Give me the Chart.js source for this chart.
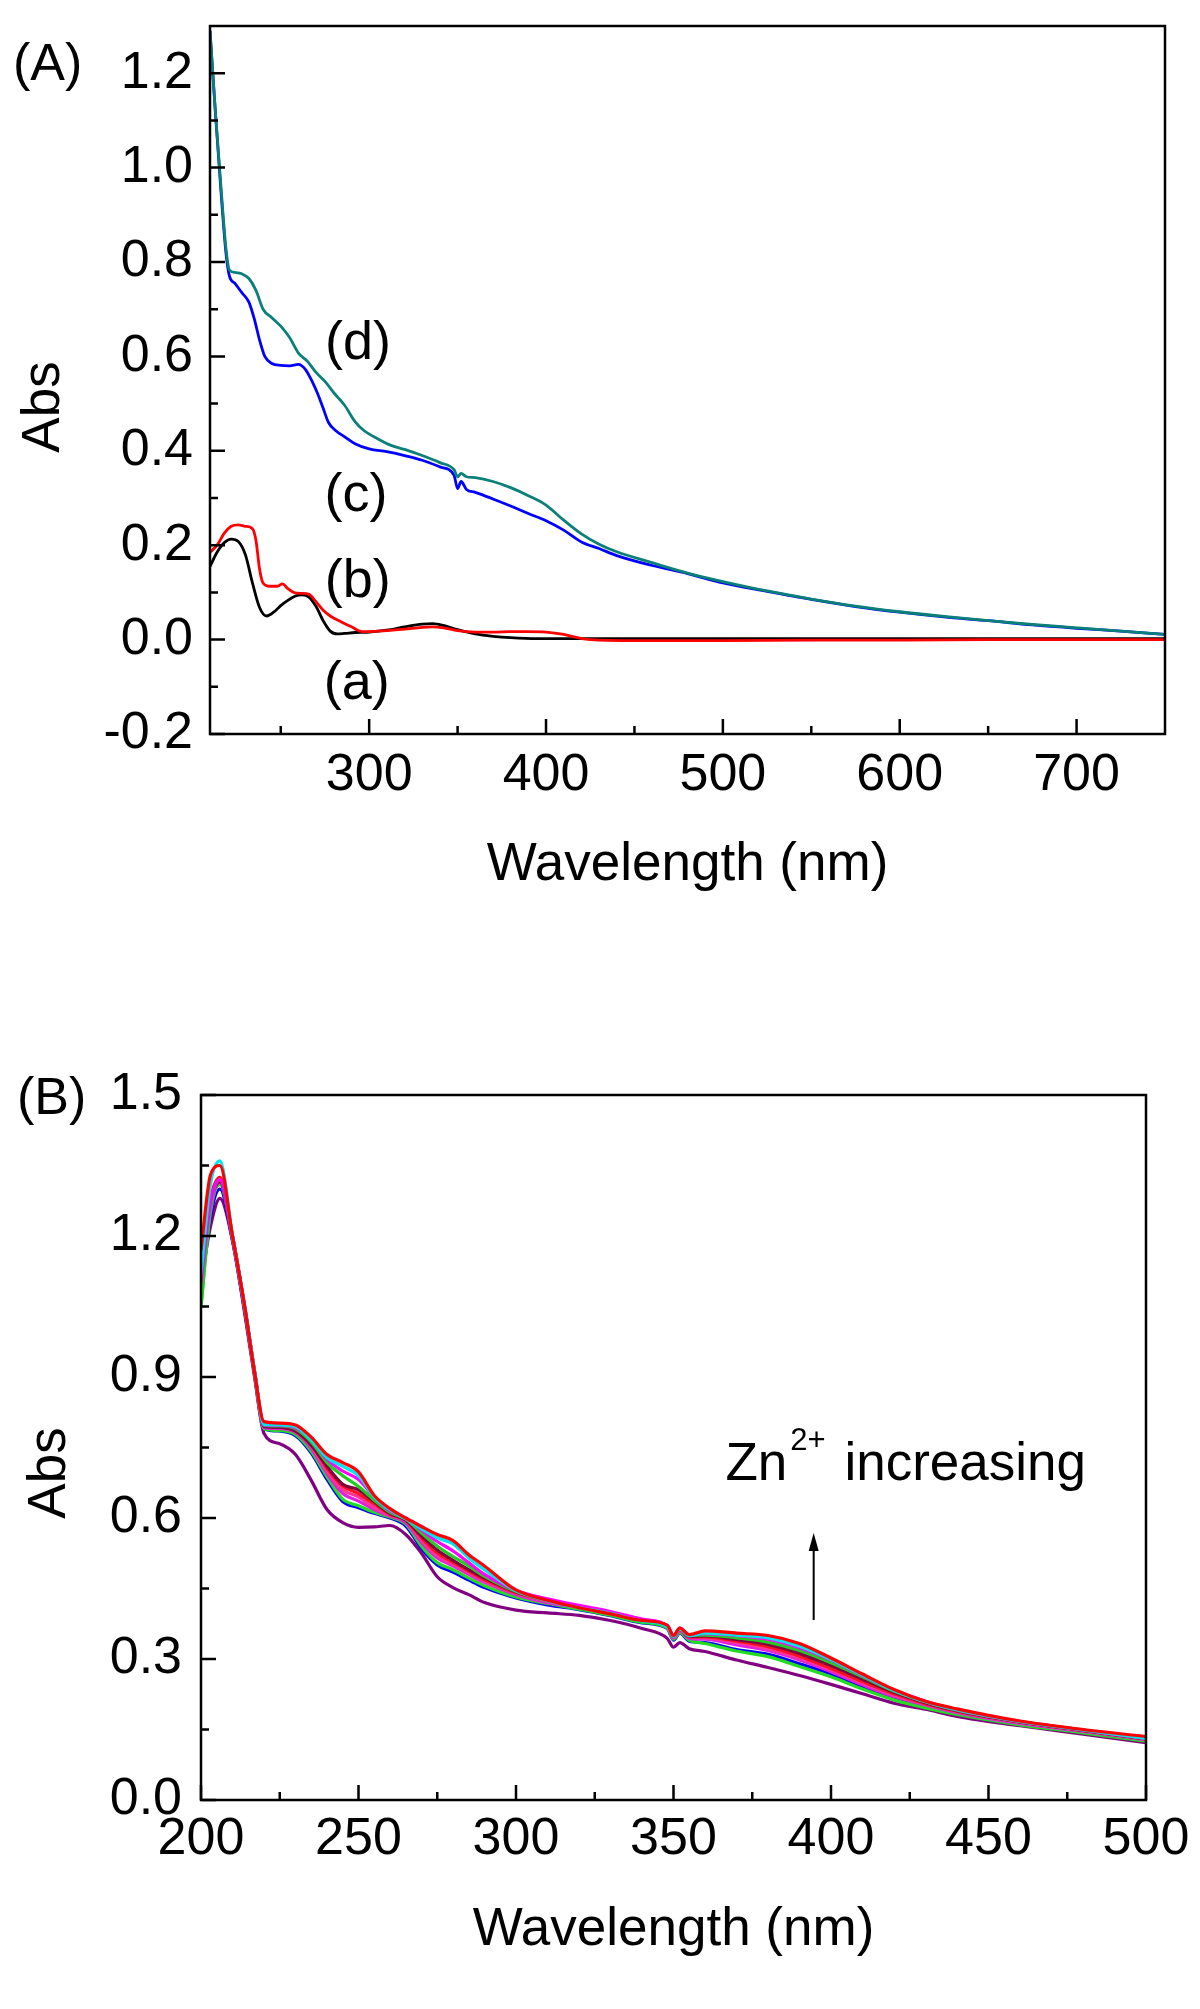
<!DOCTYPE html>
<html>
<head>
<meta charset="utf-8">
<script src="https://cdn.jsdelivr.net/npm/chart.js@4.4.1/dist/chart.umd.min.js"></script>
<style>
  html, body { margin: 0; padding: 0; background: #fff; }
  #page { position: relative; width: 1200px; height: 2009px; background: #fff; }
  .panel { position: absolute; left: 0; width: 1200px; }
</style>
</head>
<body>
<div id="page">
  <div class="panel" style="top:0;height:960px"><canvas id="chartA" width="1200" height="960"></canvas></div>
  <div class="panel" style="top:960px;height:1049px"><canvas id="chartB" width="1200" height="1049"></canvas></div>
</div>
<script>
// ---------- Panel (A): spectra a-d ----------
const wlA_a = [210, 214, 218, 222, 226, 230, 234, 238, 242, 246, 250, 254, 258, 262, 266, 270, 274, 278, 282, 286, 292, 300, 310, 320, 330, 336, 342, 350, 360, 370, 380, 395, 410, 450, 500, 550, 600, 650, 700, 750];
const absA_a = [0.155, 0.185, 0.205, 0.213, 0.208, 0.18, 0.12, 0.068, 0.05, 0.058, 0.072, 0.083, 0.092, 0.095, 0.09, 0.07, 0.04, 0.018, 0.012, 0.013, 0.015, 0.016, 0.02, 0.027, 0.033, 0.034, 0.03, 0.021, 0.012, 0.007, 0.004, 0.002, 0.002, 0.002, 0.002, 0.002, 0.002, 0.002, 0.002, 0.002];

const wlA_b = [210, 214, 218, 222, 226, 230, 234, 236, 238, 240, 244, 248, 251, 254, 258, 262, 266, 270, 274, 278, 284, 290, 296, 300, 310, 320, 330, 336, 342, 350, 360, 370, 380, 390, 400, 410, 418, 425, 450, 500, 550, 600, 650, 700, 750];
const absA_b = [0.185, 0.2, 0.225, 0.24, 0.243, 0.24, 0.235, 0.21, 0.15, 0.12, 0.113, 0.113, 0.118, 0.108, 0.099, 0.098, 0.096, 0.08, 0.062, 0.05, 0.038, 0.027, 0.017, 0.017, 0.019, 0.022, 0.026, 0.027, 0.025, 0.019, 0.016, 0.016, 0.017, 0.017, 0.016, 0.011, 0.004, 0.0, -0.002, -0.002, -0.001, -0.001, 0.0, 0.0, 0.0];

const wlA_c = [210, 213, 216, 219, 221, 224, 228, 232, 235, 238, 241, 245, 250, 255, 260, 264, 268, 271, 274, 277, 281, 286, 292, 300, 310, 320, 330, 340, 348, 350, 352, 355, 360, 370, 380, 390, 400, 410, 420, 430, 440, 460, 480, 500, 525, 550, 575, 600, 625, 650, 675, 700, 725, 750];
const absA_c = [1.29, 1.12, 0.96, 0.82, 0.77, 0.755, 0.735, 0.715, 0.68, 0.635, 0.6, 0.585, 0.581, 0.58, 0.583, 0.572, 0.545, 0.52, 0.49, 0.46, 0.443, 0.43, 0.415, 0.404, 0.398, 0.39, 0.38, 0.366, 0.348, 0.32, 0.335, 0.318, 0.312, 0.298, 0.283, 0.267, 0.252, 0.232, 0.207, 0.193, 0.178, 0.157, 0.14, 0.12, 0.102, 0.085, 0.07, 0.058, 0.048, 0.04, 0.031, 0.024, 0.018, 0.011];

const wlA_d = [210, 213, 216, 219, 221, 224, 228, 232, 236, 240, 245, 250, 255, 260, 265, 270, 275, 280, 286, 292, 297, 305, 312, 320, 330, 340, 348, 350, 352, 355, 360, 370, 380, 390, 400, 410, 420, 430, 440, 460, 480, 500, 525, 550, 575, 600, 625, 650, 675, 700, 725, 750];
const absA_d = [1.29, 1.12, 0.97, 0.83, 0.783, 0.778, 0.775, 0.765, 0.74, 0.70, 0.682, 0.664, 0.64, 0.607, 0.59, 0.566, 0.547, 0.523, 0.497, 0.462, 0.443, 0.425, 0.412, 0.403, 0.39, 0.375, 0.36, 0.345, 0.352, 0.345, 0.343, 0.335, 0.322, 0.305, 0.285, 0.253, 0.224, 0.202, 0.186, 0.163, 0.141, 0.123, 0.103, 0.086, 0.071, 0.059, 0.049, 0.04, 0.032, 0.025, 0.018, 0.011];

const colorsA = ['#000000', '#ff0000', '#0000ff', '#0a8078'];
const labelsA = ['(a)', '(b)', '(c)', '(d)'];
const labelXA = [293, 293.5, 292.6, 293.7];
const labelYA = [-0.126, 0.09, 0.2725, 0.5945];
const xTicksA = [300, 400, 500, 600, 700];
const xMinorA = [250, 350, 450, 550, 650];
const yTicksA = [-0.2, 0, 0.2, 0.4, 0.6, 0.8, 1.0, 1.2];
const yMinorA = [-0.1, 0.1, 0.3, 0.5, 0.7, 0.9, 1.1];

// ---------- Panel (B): Zn2+ titration ----------
const wlB = [200, 203, 206, 210, 214, 217, 220, 225, 230, 235, 240, 245, 250, 255, 260, 265, 270, 275, 280, 285, 290, 300, 310, 320, 330, 340, 348, 350, 352, 355, 360, 370, 380, 390, 400, 410, 420, 430, 440, 460, 480, 500];
const absB_red = [1.17, 1.33, 1.35, 1.20, 1.045, 0.91, 0.805, 0.802, 0.798, 0.772, 0.735, 0.718, 0.698, 0.648, 0.62, 0.60, 0.582, 0.565, 0.552, 0.522, 0.498, 0.447, 0.425, 0.409, 0.396, 0.382, 0.372, 0.35, 0.366, 0.352, 0.36, 0.355, 0.35, 0.333, 0.302, 0.268, 0.235, 0.21, 0.194, 0.168, 0.15, 0.135];
const absB_cyan = [1.12, 1.31, 1.36, 1.20, 1.045, 0.912, 0.799, 0.798, 0.794, 0.766, 0.728, 0.71, 0.69, 0.645, 0.617, 0.598, 0.577, 0.558, 0.545, 0.515, 0.49, 0.445, 0.424, 0.409, 0.397, 0.381, 0.369, 0.348, 0.364, 0.349, 0.355, 0.351, 0.345, 0.327, 0.299, 0.266, 0.233, 0.209, 0.192, 0.167, 0.149, 0.131];
const absB_magenta = [1.10, 1.27, 1.32, 1.20, 1.044, 0.912, 0.798, 0.797, 0.792, 0.768, 0.725, 0.70, 0.682, 0.645, 0.615, 0.60, 0.574, 0.55, 0.53, 0.505, 0.48, 0.446, 0.428, 0.414, 0.401, 0.385, 0.371, 0.35, 0.366, 0.351, 0.354, 0.35, 0.342, 0.324, 0.298, 0.265, 0.234, 0.21, 0.192, 0.167, 0.149, 0.131];
const absB_green = [1.05, 1.26, 1.32, 1.20, 1.043, 0.912, 0.797, 0.796, 0.79, 0.762, 0.718, 0.69, 0.667, 0.638, 0.612, 0.598, 0.568, 0.54, 0.518, 0.498, 0.476, 0.444, 0.426, 0.412, 0.398, 0.383, 0.37, 0.35, 0.365, 0.35, 0.351, 0.345, 0.336, 0.318, 0.292, 0.262, 0.232, 0.209, 0.191, 0.167, 0.149, 0.131];
const absB_wine = [1.12, 1.27, 1.315, 1.198, 1.042, 0.91, 0.795, 0.793, 0.785, 0.755, 0.71, 0.672, 0.66, 0.635, 0.61, 0.596, 0.562, 0.532, 0.51, 0.49, 0.472, 0.443, 0.425, 0.411, 0.398, 0.383, 0.37, 0.349, 0.364, 0.348, 0.349, 0.341, 0.331, 0.312, 0.286, 0.257, 0.229, 0.207, 0.19, 0.166, 0.148, 0.13];
const absB_red2 = [1.14, 1.28, 1.325, 1.20, 1.043, 0.912, 0.797, 0.794, 0.786, 0.757, 0.706, 0.668, 0.652, 0.63, 0.608, 0.595, 0.558, 0.526, 0.506, 0.487, 0.469, 0.441, 0.424, 0.411, 0.398, 0.383, 0.37, 0.348, 0.363, 0.347, 0.347, 0.338, 0.326, 0.306, 0.28, 0.252, 0.226, 0.205, 0.189, 0.166, 0.148, 0.13];
const absB_pink = [1.13, 1.27, 1.32, 1.198, 1.042, 0.91, 0.795, 0.792, 0.784, 0.752, 0.70, 0.66, 0.645, 0.622, 0.606, 0.594, 0.553, 0.52, 0.502, 0.484, 0.466, 0.44, 0.422, 0.41, 0.398, 0.383, 0.369, 0.347, 0.362, 0.346, 0.345, 0.335, 0.322, 0.302, 0.277, 0.249, 0.223, 0.204, 0.188, 0.165, 0.147, 0.129];
const absB_magenta2 = [1.12, 1.26, 1.315, 1.195, 1.04, 0.908, 0.792, 0.79, 0.782, 0.748, 0.695, 0.652, 0.636, 0.618, 0.604, 0.59, 0.548, 0.515, 0.498, 0.48, 0.463, 0.437, 0.42, 0.41, 0.399, 0.384, 0.368, 0.345, 0.36, 0.344, 0.342, 0.33, 0.318, 0.298, 0.273, 0.245, 0.22, 0.202, 0.186, 0.163, 0.146, 0.128];
const absB_green2 = [1.05, 1.25, 1.31, 1.195, 1.04, 0.905, 0.79, 0.786, 0.778, 0.742, 0.688, 0.64, 0.626, 0.612, 0.602, 0.587, 0.54, 0.505, 0.49, 0.472, 0.456, 0.432, 0.418, 0.406, 0.393, 0.378, 0.366, 0.342, 0.356, 0.34, 0.333, 0.317, 0.305, 0.284, 0.262, 0.236, 0.213, 0.196, 0.182, 0.16, 0.143, 0.125];
const absB_blue = [1.08, 1.24, 1.30, 1.19, 1.035, 0.905, 0.79, 0.785, 0.775, 0.738, 0.682, 0.635, 0.622, 0.61, 0.60, 0.583, 0.535, 0.50, 0.485, 0.468, 0.452, 0.43, 0.415, 0.405, 0.392, 0.377, 0.365, 0.34, 0.355, 0.338, 0.335, 0.32, 0.31, 0.29, 0.268, 0.241, 0.217, 0.198, 0.183, 0.162, 0.145, 0.126];
const absB_purple = [1.10, 1.22, 1.28, 1.19, 1.03, 0.90, 0.78, 0.758, 0.735, 0.68, 0.618, 0.59, 0.58, 0.581, 0.584, 0.565, 0.525, 0.475, 0.452, 0.437, 0.42, 0.404, 0.398, 0.393, 0.382, 0.365, 0.344, 0.325, 0.335, 0.322, 0.316, 0.298, 0.282, 0.265, 0.246, 0.226, 0.206, 0.193, 0.178, 0.158, 0.14, 0.122];

const seriesB = [absB_red, absB_cyan, absB_magenta, absB_green, absB_wine, absB_red2, absB_pink, absB_magenta2, absB_green2, absB_blue, absB_purple];
const colorsB = ['#ff0000', '#00e5ee', '#ff00ff', '#22cc22', '#800040', '#ff1020', '#ff3399', '#e020e0', '#22dd22', '#0000ff', '#800080'];
const xTicksB = [200, 250, 300, 350, 400, 450, 500];
const xMinorB = [225, 275, 325, 375, 425, 475];
const yTicksB = [0, 0.3, 0.6, 0.9, 1.2, 1.5];
const yMinorB = [0.15, 0.45, 0.75, 1.05, 1.35];
const noteB = { x: 366.5, y: 0.681, arrowX: 394.5, arrowFrom: 0.383, arrowTo: 0.568 };

const FONT = '"Liberation Sans", Arial, sans-serif';

function toPoints(xs, ys) {
    return xs.map((x, i) => ({ x: x, y: ys[i] }));
}

function decor(cfg) {
    return {
        id: 'decor' + cfg.name,
        afterDraw(chart) {
            const ctx = chart.ctx;
            const a = chart.chartArea;
            const xs = chart.scales.x, ys = chart.scales.y;
            ctx.save();
            ctx.strokeStyle = '#000';
            ctx.lineWidth = 2.5;
            ctx.strokeRect(a.left, a.top, a.right - a.left, a.bottom - a.top);

            // inward tick marks on bottom and left axes
            ctx.beginPath();
            const tickX = (vals, len) => vals.forEach(v => {
                const p = xs.getPixelForValue(v);
                ctx.moveTo(p, a.bottom); ctx.lineTo(p, a.bottom - len);
            });
            const tickY = (vals, len) => vals.forEach(v => {
                const p = ys.getPixelForValue(v);
                ctx.moveTo(a.left, p); ctx.lineTo(a.left + len, p);
            });
            tickX(cfg.xTicks, 15); tickX(cfg.xMinor, 8);
            tickY(cfg.yTicks, 15); tickY(cfg.yMinor, 8);
            ctx.stroke();

            ctx.fillStyle = '#000';
            ctx.font = '52px ' + FONT;
            ctx.textBaseline = 'alphabetic';
            ctx.textAlign = 'left';
            ctx.fillText(cfg.panel, cfg.panelX, cfg.panelY);

            ctx.font = '53px ' + FONT;
            ctx.textAlign = 'center';
            ctx.fillText('Wavelength (nm)', (a.left + a.right) / 2, cfg.xTitleY);

            ctx.save();
            ctx.translate(cfg.yTitleX, cfg.yTitleY);
            ctx.rotate(-Math.PI / 2);
            ctx.textBaseline = 'middle';
            ctx.fillText('Abs', 0, 0);
            ctx.restore();

            if (cfg.extra) cfg.extra(chart, ctx, xs, ys);
            ctx.restore();
        }
    };
}

function makeChart(id, datasets, s) {
    return new Chart(document.getElementById(id), {
        type: 'line',
        data: { datasets: datasets },
        options: {
            responsive: false,
            animation: false,
            events: [],
            layout: { padding: s.padding },
            elements: {
                point: { radius: 0 },
                line: { cubicInterpolationMode: 'monotone' }
            },
            plugins: { legend: { display: false }, tooltip: { enabled: false } },
            scales: {
                x: {
                    type: 'linear', min: s.xMin, max: s.xMax,
                    grid: { display: false, drawTicks: false },
                    border: { display: false },
                    afterBuildTicks: sc => { sc.ticks = s.xTicks.map(v => ({ value: v })); },
                    afterFit: sc => { sc.height = 120; sc.paddingLeft = 0; sc.paddingRight = 0; },
                    ticks: {
                        font: { family: FONT, size: 52, lineHeight: 1.2 }, color: '#000',
                        padding: s.xPad, maxRotation: 0, autoSkip: false,
                        callback: v => String(v)
                    }
                },
                y: {
                    type: 'linear', min: s.yMin, max: s.yMax,
                    grid: { display: false, drawTicks: false },
                    border: { display: false },
                    afterBuildTicks: sc => { sc.ticks = s.yTicks.map(v => ({ value: v })); },
                    afterFit: sc => { sc.width = s.yWidth; sc.paddingTop = 0; sc.paddingBottom = 0; },
                    ticks: {
                        font: { family: FONT, size: 52, lineHeight: 1.0 }, color: '#000',
                        padding: s.yPad, autoSkip: false,
                        callback: v => v.toFixed(1)
                    }
                }
            }
        },
        plugins: [decor(s)]
    });
}

// Panel A
const rawA = [[wlA_a, absA_a], [wlA_b, absA_b], [wlA_c, absA_c], [wlA_d, absA_d]];
const datasetsA = rawA.map((r, i) => ({
    data: toPoints(r[0], r[1]),
    borderColor: colorsA[i],
    borderWidth: 2.8
})).reverse();

makeChart('chartA', datasetsA, {
    name: 'A', panel: '(A)', panelX: 13, panelY: 80,
    xMin: 210, xMax: 750, yMin: -0.2, yMax: 1.3,
    xTicks: xTicksA, xMinor: xMinorA, yTicks: yTicksA, yMinor: yMinorA,
    padding: { left: 0, top: 26, right: 35, bottom: 960 - 734 - 120 },
    yWidth: 210, xPad: 10, yPad: 17,
    xTitleY: 880, yTitleX: 44, yTitleY: 407,
    extra(chart, ctx, xs, ys) {
        ctx.font = '54px ' + FONT;
        ctx.textAlign = 'center';
        ctx.textBaseline = 'alphabetic';
        labelsA.forEach((t, i) => {
            ctx.fillText(t, xs.getPixelForValue(labelXA[i]), ys.getPixelForValue(labelYA[i]));
        });
    }
});

// Panel B
const datasetsB = seriesB.map((arr, i) => ({
    data: toPoints(wlB, arr),
    borderColor: colorsB[i],
    borderWidth: 3.2
}));

makeChart('chartB', datasetsB, {
    name: 'B', panel: '(B)', panelX: 17, panelY: 154,
    xMin: 200, xMax: 500, yMin: 0, yMax: 1.5,
    xTicks: xTicksB, xMinor: xMinorB, yTicks: yTicksB, yMinor: yMinorB,
    padding: { left: 0, top: 135, right: 54, bottom: 1049 - 840 - 120 },
    yWidth: 201, xPad: 8, yPad: 19,
    xTitleY: 985, yTitleX: 50, yTitleY: 513,
    extra(chart, ctx, xs, ys) {
        let x = xs.getPixelForValue(noteB.x);
        const base = ys.getPixelForValue(noteB.y);
        ctx.textAlign = 'left';
        ctx.textBaseline = 'alphabetic';
        ctx.font = '53px ' + FONT;
        ctx.fillText('Zn', x, base);
        x += ctx.measureText('Zn').width + 3;
        ctx.font = '31px ' + FONT;
        ctx.fillText('2+', x, base - 30);
        x += ctx.measureText('2+').width + 4;
        ctx.font = '53px ' + FONT;
        ctx.fillText(' increasing', x, base);

        // arrow pointing up
        const ax = xs.getPixelForValue(noteB.arrowX);
        const y0 = ys.getPixelForValue(noteB.arrowFrom);
        const y1 = ys.getPixelForValue(noteB.arrowTo);
        ctx.lineWidth = 2;
        ctx.beginPath();
        ctx.moveTo(ax, y0); ctx.lineTo(ax, y1 + 14);
        ctx.stroke();
        ctx.beginPath();
        ctx.moveTo(ax, y1); ctx.lineTo(ax - 5, y1 + 18); ctx.lineTo(ax + 5, y1 + 18);
        ctx.closePath();
        ctx.fill();
    }
});
</script>
</body>
</html>
